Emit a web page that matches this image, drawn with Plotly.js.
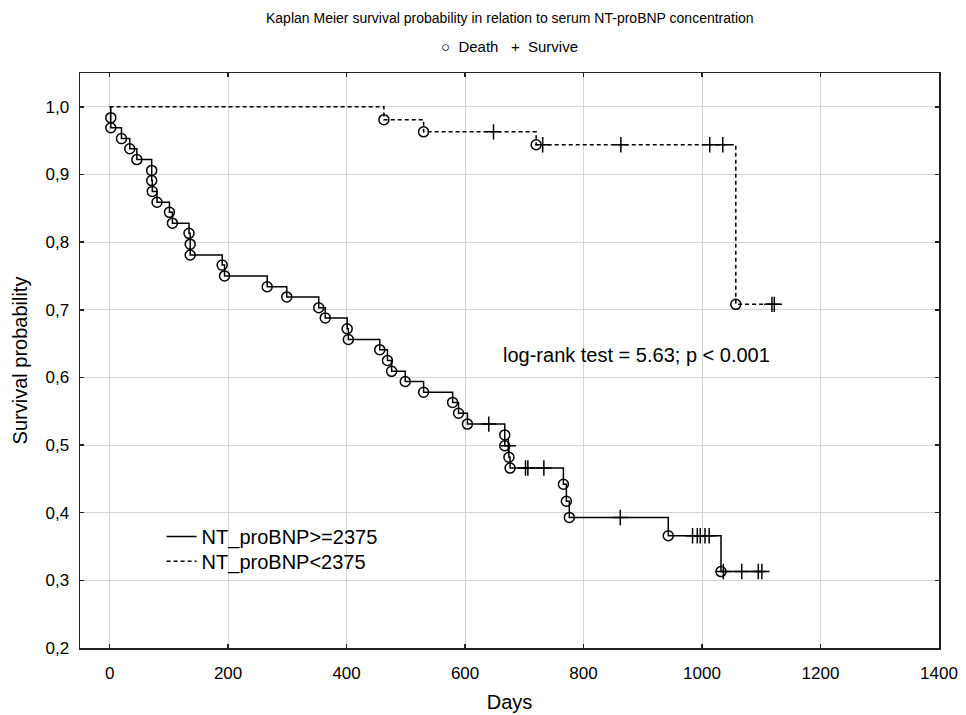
<!DOCTYPE html>
<html>
<head>
<meta charset="utf-8">
<script src="https://cdn.plot.ly/plotly-3.0.1.min.js"></script>
<style>html,body{margin:0;padding:0;background:#fff;}#chart{width:966px;height:715px;}</style>
</head>
<body>
<div id="chart"></div>
<script>
// ---- Data ----
// Group NT_proBNP>=2375 (solid): death times and survival after each death
var highDeathDays = [2, 2, 20, 34, 46, 71, 71, 72, 80, 101, 106, 134, 136, 136, 190, 194, 266, 299, 353, 364, 401, 403, 456, 469, 476, 499, 530, 579, 589, 604, 667, 667, 674, 676, 766, 771, 776, 943, 1032];
var highSurv = [0.984, 0.969, 0.953, 0.938, 0.922, 0.906, 0.891, 0.875, 0.859, 0.844, 0.828, 0.813, 0.797, 0.781, 0.766, 0.750, 0.734, 0.719, 0.703, 0.688, 0.672, 0.656, 0.641, 0.625, 0.609, 0.594, 0.578, 0.563, 0.547, 0.531, 0.515, 0.499, 0.482, 0.466, 0.442, 0.417, 0.393, 0.366, 0.313];
var highCensorDays = [640, 673, 702, 706, 733, 862, 984, 992, 997, 1005, 1012, 1036, 1067, 1095, 1101];

// Group NT_proBNP<2375 (dashed)
var lowDeathDays = [463, 530, 720, 1057];
var lowSurv = [0.981, 0.963, 0.944, 0.708];
var lowCensorDays = [648, 731, 863, 1013, 1035, 1118, 1122];

var seriesNames = ['NT_proBNP>=2375', 'NT_proBNP<2375'];
var xTicks = [0, 200, 400, 600, 800, 1000, 1200, 1400];
var yTicks = [0.2, 0.3, 0.4, 0.5, 0.6, 0.7, 0.8, 0.9, 1.0];

// ---- helpers ----
function survAt(days, surv, t) {
  var s = 1;
  for (var i = 0; i < days.length; i++) { if (days[i] <= t) s = surv[i]; }
  return s;
}
function stepCurve(days, surv, censors) {
  var lastT = Math.max(days[days.length - 1], censors[censors.length - 1]);
  var x = [0].concat(days).concat([lastT]);
  var y = [1].concat(surv).concat([surv[surv.length - 1]]);
  return {x: x, y: y};
}

var hi = stepCurve(highDeathDays, highSurv, highCensorDays);
var lo = stepCurve(lowDeathDays, lowSurv, lowCensorDays);

var deathMarker = {symbol: 'circle-open', size: 10, color: '#000', line: {width: 1.5, color: '#000'}};
var censorMarker = {symbol: 'cross-thin-open', size: 11, color: '#000', line: {width: 1.5, color: '#000'}};

var traces = [
  {x: hi.x, y: hi.y, type: 'scatter', mode: 'lines', line: {shape: 'hv', color: '#000', width: 1.5}, name: seriesNames[0], legend: 'legend'},
  {x: lo.x, y: lo.y, type: 'scatter', mode: 'lines', line: {shape: 'hv', color: '#000', width: 1.5, dash: '4px,3px'}, name: seriesNames[1], legend: 'legend2'},
  {x: highDeathDays, y: highSurv, type: 'scatter', mode: 'markers', showlegend: false, hoverinfo: 'skip', marker: deathMarker},
  {x: lowDeathDays, y: lowSurv, type: 'scatter', mode: 'markers', showlegend: false, hoverinfo: 'skip', marker: deathMarker},
  {x: highCensorDays, y: highCensorDays.map(function(t){return survAt(highDeathDays, highSurv, t);}), type: 'scatter', mode: 'markers', showlegend: false, hoverinfo: 'skip', marker: censorMarker},
  {x: lowCensorDays, y: lowCensorDays.map(function(t){return survAt(lowDeathDays, lowSurv, t);}), type: 'scatter', mode: 'markers', showlegend: false, hoverinfo: 'skip', marker: censorMarker}
];

var fontFam = '"Liberation Sans", Arial, sans-serif';
var legendFont = {family: fontFam, size: 20, color: '#000'};
var layout = {
  width: 966, height: 715,
  margin: {l: 80, r: 27, t: 73, b: 67, pad: 0},
  paper_bgcolor: '#fff', plot_bgcolor: '#fff',
  font: {family: fontFam, size: 17, color: '#000'},
  separators: ',.',
  showlegend: true,
  legend: {x: 0.095, y: 0.228, xanchor: 'left', yanchor: 'top', bgcolor: 'rgba(0,0,0,0)', borderwidth: 0, font: legendFont},
  legend2: {x: 0.095, y: 0.185, xanchor: 'left', yanchor: 'top', bgcolor: 'rgba(0,0,0,0)', borderwidth: 0, font: legendFont},
  xaxis: {
    range: [-50, 1400], tickvals: xTicks, ticktext: xTicks.map(String),
    showgrid: true, gridcolor: '#d4d4d4', gridwidth: 1, zeroline: false,
    showline: true, linecolor: '#222', linewidth: 1.5, mirror: 'ticks',
    ticks: 'inside', ticklen: 4, tickcolor: '#222', tickwidth: 1.5,
    ticklabelstandoff: 9, automargin: false,
    tickfont: {family: fontFam, size: 17, color: '#000'},
    title: {text: 'Days', font: {family: fontFam, size: 20, color: '#000'}, standoff: 13}
  },
  yaxis: {
    range: [0.2, 1.05], tickvals: yTicks, tickformat: '.1f',
    showgrid: true, gridcolor: '#d4d4d4', gridwidth: 1, zeroline: false,
    showline: true, linecolor: '#222', linewidth: 1.5, mirror: 'ticks',
    ticks: 'inside', ticklen: 4, tickcolor: '#222', tickwidth: 1.5,
    ticklabelstandoff: 6, automargin: false,
    tickfont: {family: fontFam, size: 17, color: '#000'},
    title: {text: 'Survival probability', font: {family: fontFam, size: 20, color: '#000'}, standoff: 12}
  },
  annotations: [
    {xref: 'paper', yref: 'paper', x: 0.5, y: 1, yshift: 55, xanchor: 'center', yanchor: 'middle', showarrow: false,
     text: 'Kaplan Meier survival probability in relation to serum NT-proBNP concentration', font: {family: fontFam, size: 14, color: '#000'}},
    {xref: 'paper', yref: 'paper', x: 0.5, y: 1, yshift: 27, xanchor: 'center', yanchor: 'middle', showarrow: false,
     text: '○  Death   +  Survive', font: {family: fontFam, size: 15, color: '#000'}},
    {xref: 'x', yref: 'y', x: 660, y: 0.633, xanchor: 'left', yanchor: 'middle', showarrow: false,
     text: 'log-rank test = 5.63; p < 0.001', font: {family: fontFam, size: 20, color: '#000'}}
  ]
};

Plotly.newPlot('chart', traces, layout, {displayModeBar: false, staticPlot: true});
</script>
</body>
</html>
